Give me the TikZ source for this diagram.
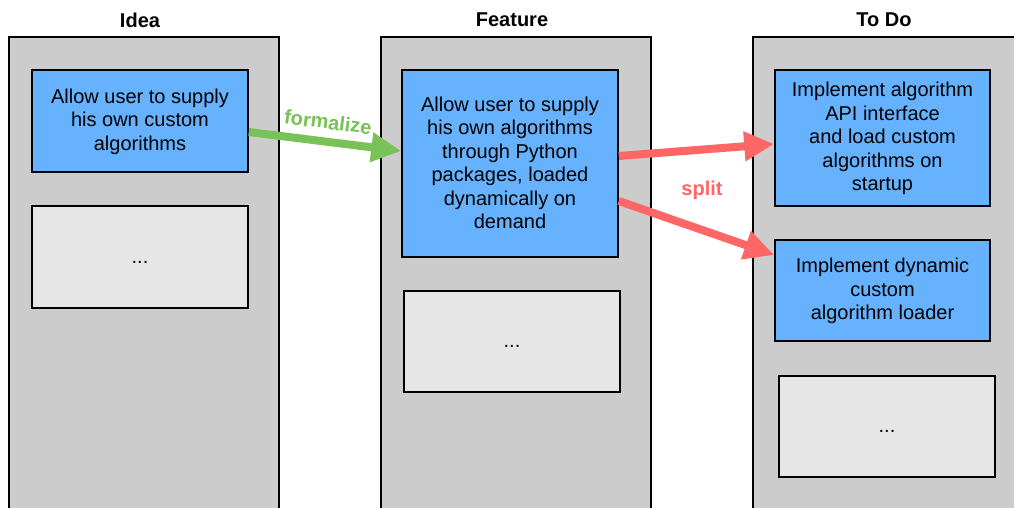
\documentclass[tikz,border=0pt]{standalone}
\usepackage{fontspec}
\setmainfont{Liberation Sans}
\usetikzlibrary{arrows.meta}
\definecolor{colgrey}{HTML}{CCCCCC}
\definecolor{boxblue}{HTML}{66B2FF}
\definecolor{boxgrey}{HTML}{E6E6E6}
\definecolor{arrgreen}{HTML}{78C257}
\definecolor{arrred}{HTML}{FF6666}
\newcommand\cs{\rule[-3.5pt]{0pt}{19.5pt}}
\tikzset{
  column/.style={draw=black, fill=colgrey, line width=1.5pt},
  coltitle/.style={font=\fontsize{20}{24}\selectfont\bfseries},
  card/.style={draw=black, line width=1.5pt, minimum width=216pt, align=center, inner sep=2pt, font=\fontsize{20}{23.5}\selectfont},
  bluecard/.style={card, fill=boxblue},
  greycard/.style={card, fill=boxgrey},
  bigarrow/.style={line width=8pt, -{Triangle[length=30pt,width=28pt]}},
  arrlabel/.style={font=\fontsize{20}{24}\selectfont\bfseries}
}
\begin{document}
\begin{tikzpicture}[x=1pt,y=-1pt]
\useasboundingbox (0,0) rectangle (1014,507);
\begin{scope}
\clip (0,0) rectangle (1014,507);
\fill[white] (0,0) rectangle (1014,507);
\draw[column] (9,37) rectangle (279,530);
\draw[column] (381,37) rectangle (651,530);
\draw[column] (753,37) rectangle (1023,530);
\end{scope}
\node[coltitle] (tidea) at (140,20) {Idea};
\node[coltitle] (tfeat) at (512,20) {Feature};
\node[coltitle] (ttodo) at (884,20) {To Do};

\node[bluecard, minimum height=102pt] (i1) at (140,121) {\cs Allow user to supply\\\cs his own custom\\\cs algorithms};
\node[greycard, minimum height=102pt] (i2) at (140,257) {\cs...};

\node[bluecard, minimum height=187pt] (f1) at (510,163.5) {\cs Allow user to supply\\\cs his own algorithms\\\cs through Python\\\cs packages, loaded\\\cs dynamically on\\\cs demand};
\node[greycard, minimum height=101pt] (f2) at (512,341.5) {\cs...};

\node[bluecard, minimum width=215pt, minimum height=136pt] (t1) at (882.5,138) {\cs Implement algorithm\\\cs API interface\\\cs and load custom\\\cs algorithms on\\\cs startup};
\node[bluecard, minimum width=215pt, minimum height=101pt] (t2) at (882.5,290.5) {\cs Implement dynamic\\\cs custom\\\cs algorithm loader};
\node[greycard, minimum height=101pt] (t3) at (887,426.5) {\cs...};

\draw[bigarrow, arrgreen] ([yshift=-11pt]i1.east) -- ([yshift=12.5pt]f1.west);
\draw[bigarrow, arrred] ([yshift=7.5pt]f1.east) -- ([yshift=-6pt]t1.west);
\draw[bigarrow, arrred] ([yshift=-37.5pt]f1.east) -- ([yshift=35.5pt]t2.west);

\node[arrlabel, text=arrgreen, rotate=-7] (lform) at (328,122) {formalize};
\node[arrlabel, text=arrred] (lsplit) at (702,190) {split};
\end{tikzpicture}
\end{document}
